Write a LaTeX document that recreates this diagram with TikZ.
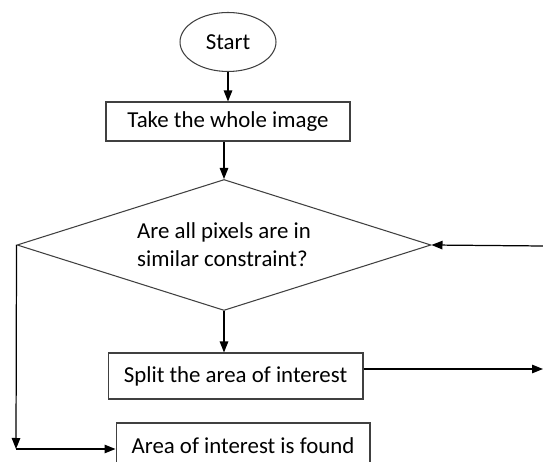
\documentclass[tikz,border=0pt]{standalone}
\usepackage{fontspec}
\setmainfont{Carlito}
\usetikzlibrary{shapes.geometric}
\usetikzlibrary{arrows.meta}

\begin{document}
\begin{tikzpicture}[x=0.02cm, y=0.02cm, font=\fontsize{13}{16}\selectfont,
    box/.style={draw=black!75, line width=0.6pt, rectangle, inner sep=0pt},
    flow/.style={-{Triangle[length=0.22cm, width=0.17cm]}, black, line width=0.7pt}]
  % Fix the page to the size of the reference
  \useasboundingbox (0,0) rectangle (543,462);
  \clip (0,0) rectangle (543,462);

  % Start terminal
  \node[ellipse, draw=black!75, line width=0.6pt, minimum width=1.92cm,
        minimum height=1.18cm, inner sep=0pt] (start) at (228,420) {Start};

  % Process boxes
  \node[box, minimum width=4.88cm, minimum height=0.78cm] (take) at (228,340.5) {Take the whole image};
  \node[box, minimum width=5.1cm, minimum height=0.92cm] (split) at (235.5,86) {Split the area of interest};
  \node[box, minimum width=5.08cm, minimum height=0.92cm] (found) at (243,16) {Area of interest is found};

  % Decision
  \node[diamond, aspect=3.16, draw=black!75, line width=0.6pt, minimum width=8.28cm,
        minimum height=2.62cm, inner sep=0pt, align=left] (check) at (224,217)
        {Are all pixels are in\\similar constraint?};

  % Free ends on the right edge and the corner on the left
  \coordinate (loopin) at (543,216);
  \coordinate (loopout) at (543,93);
  \coordinate (corner) at (16,13);

  % Connectors
  \draw[flow] (start) -- (take);
  \draw[flow] (take.south -| check.north) -- (check.north);
  \draw[flow] (check.south) -- (check.south |- split.north);
  \draw[flow] (loopin) -- (check.east);
  \draw[flow] (split.east |- loopout) -- (loopout);
  \draw[flow] (check.west) -- (corner);
  \draw[flow] (corner) -- (corner -| found.west);

\end{tikzpicture}
\end{document}
